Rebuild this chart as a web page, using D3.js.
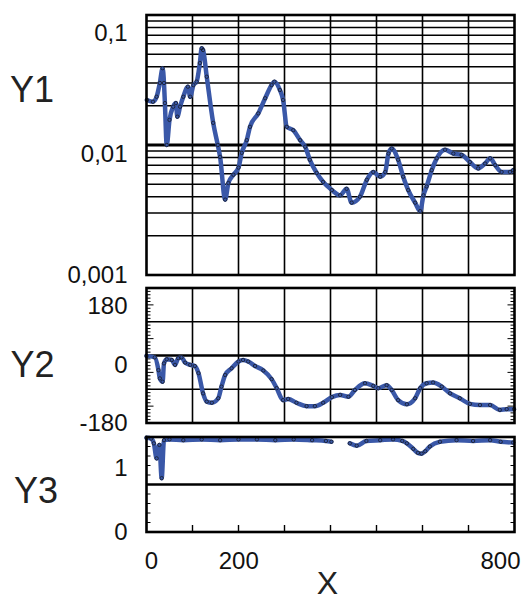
<!DOCTYPE html>
<html>
<head>
<meta charset="utf-8">
<script src="https://cdn.jsdelivr.net/npm/d3@7"></script>
<style>
  body { margin: 0; background: #fff; }
  svg { display: block; font-family: "Liberation Sans", Arial, sans-serif; }
</style>
</head>
<body>
<svg id="chart" width="528" height="603"></svg>
<script>
// ---- data -------------------------------------------------------------
// Y1 magnitude (log scale)
const y1X = [1, 14, 22, 29, 35, 38, 40, 44, 50, 58, 64, 67, 73, 80, 90, 95, 102, 109, 116, 120, 123, 131, 145, 155, 160, 171, 178, 189, 200, 207, 218, 225, 243, 258, 272, 278, 290, 297, 305, 319, 334, 345, 355, 370, 384, 403, 421, 435, 446, 464, 479, 493, 508, 519, 526, 533, 547, 558, 569, 584, 595, 602, 609, 620, 631, 649, 667, 685, 703, 721, 736, 747, 758, 772, 790, 797];
const y1Vals = [0.0222, 0.0215, 0.0235, 0.030, 0.039, 0.030, 0.021, 0.0100, 0.0156, 0.0197, 0.021, 0.0165, 0.0197, 0.0235, 0.0281, 0.0235, 0.0289, 0.0307, 0.0427, 0.0555, 0.0538, 0.0335, 0.0148, 0.0100, 0.0081, 0.0038, 0.0051, 0.0059, 0.0067, 0.0087, 0.0109, 0.0138, 0.0175, 0.0229, 0.0289, 0.0307, 0.0265, 0.0222, 0.0138, 0.0130, 0.0109, 0.0097, 0.0077, 0.0061, 0.0052, 0.0045, 0.0041, 0.0046, 0.0036, 0.0040, 0.0054, 0.0062, 0.0057, 0.0062, 0.0086, 0.0094, 0.0077, 0.0057, 0.0045, 0.0036, 0.0031, 0.0041, 0.0048, 0.0064, 0.0079, 0.0092, 0.0086, 0.0084, 0.0074, 0.0066, 0.0072, 0.0079, 0.0070, 0.0062, 0.0062, 0.0064];

// Y2 phase (degrees)
const y2X = [0, 18, 26, 29, 35, 38, 44, 55, 62, 69, 76, 84, 95, 105, 113, 123, 131, 142, 156, 163, 171, 185, 200, 210, 221, 236, 254, 272, 283, 297, 308, 326, 348, 366, 384, 403, 421, 439, 453, 475, 493, 504, 522, 533, 547, 566, 584, 595, 609, 623, 642, 660, 681, 703, 725, 747, 768, 783, 799];
const y2Vals = [-1, -5, -39, -61, -70, -21, -10, -12, -25, -7, -5, -19, -25, -28, -47, -101, -123, -126, -114, -83, -52, -34, -16, -12, -16, -28, -40, -63, -87, -119, -116, -126, -135, -135, -126, -111, -105, -110, -92, -74, -81, -87, -79, -92, -119, -130, -114, -87, -74, -72, -83, -101, -114, -129, -132, -132, -145, -143, -143];

// Y3 (null marks the gap in the record)
const y3X = [0, 10, 16, 22, 28, 33, 38, 50, 80, 120, 160, 200, 240, 280, 320, 360, 390, 402, 420, 442, 457, 478, 508, 536, 556, 566, 580, 590, 598, 606, 616, 638, 674, 710, 747, 770, 797];
const y3Vals = [1.19, 1.18, 1.12, 0.93, 1.10, 0.68, 1.16, 1.17, 1.16, 1.17, 1.16, 1.17, 1.17, 1.16, 1.17, 1.16, 1.15, 1.14, null, 1.12, 1.09, 1.15, 1.16, 1.17, 1.15, 1.12, 1.05, 1.00, 0.99, 1.02, 1.08, 1.14, 1.16, 1.15, 1.16, 1.14, 1.13];

// tick labels
const xTicks = [0, 200, 800];
const y1Ticks = [0.001, 0.01, 0.1];
const y2Ticks = [-180, 0, 180];
const y3Ticks = [0, 1];

// ---- layout -----------------------------------------------------------
const svg = d3.select("#chart");
const L = 146.5, R = 514.5;
const P1 = { top: 15, bottom: 275 };
const P2 = { top: 288, bottom: 423 };
const P3 = { top: 437, bottom: 532 };
const BLUE = "#3a58a8";
const FONT = 24;

const locale = d3.formatLocale({ decimal: ",", thousands: ".", grouping: [3], currency: ["", ""], minus: "-" });
const fmtDec = locale.format(".3~f");
const fmtInt = locale.format("d");

const x = d3.scaleLinear().domain([0, 800]).range([L, R]);
const y1 = d3.scaleLog().domain([0.001, 0.1]).range([P1.bottom, P1.top]);
const y2 = d3.scaleLinear().domain([-180, 180]).range([P2.bottom, P2.top]);
const y3 = d3.scaleLinear().domain([0, 1.2]).range([P3.bottom, P3.top]);

const gGrid = svg.append("g");
const gData = svg.append("g");
const gFrame = svg.append("g");

function hLine(g, yPos, w) {
  g.append("line").attr("x1", L).attr("x2", R).attr("y1", yPos).attr("y2", yPos)
    .attr("stroke", "#000").attr("stroke-width", w);
}
function vGrid(g, p) {
  d3.range(100, 800, 100).forEach(v => {
    g.append("line").attr("x1", x(v)).attr("x2", x(v)).attr("y1", p.top).attr("y2", p.bottom)
      .attr("stroke", "#000").attr("stroke-width", 1.6);
  });
}

// Y1 grid: each log minor step, heavier line at the middle decade
[0.001, 0.01].forEach(d => {
  d3.range(2, 10).forEach(k => hLine(gGrid, y1(k * d), 1.5));
});
hLine(gGrid, y1(0.01), 3);
vGrid(gGrid, P1);

// Y2 grid
[-90, 90].forEach(v => hLine(gGrid, y2(v), 1.6));
hLine(gGrid, y2(0), 2.6);
vGrid(gGrid, P2);

// Y2 inner ticks on both sides
d3.range(-180, 181, 9).forEach(v => {
  const len = Math.abs(Math.abs(v) - 90) === 45 ? 7 : 4;
  [[L, 1], [R, -1]].forEach(([x0, s]) => {
    gGrid.append("line").attr("x1", x0).attr("x2", x0 + s * len)
      .attr("y1", y2(v)).attr("y2", y2(v)).attr("stroke", "#000").attr("stroke-width", 1);
  });
});

// Y3 grid and ticks
hLine(gGrid, y3(0.6), 2.6);
d3.range(0, 1.2001, 0.12).forEach(v => {
  [[L, 1], [R, -1]].forEach(([x0, s]) => {
    gGrid.append("line").attr("x1", x0).attr("x2", x0 + s * 4)
      .attr("y1", y3(v)).attr("y2", y3(v)).attr("stroke", "#000").attr("stroke-width", 1);
  });
});
d3.range(100, 800, 100).forEach(v => {
  gGrid.append("line").attr("x1", x(v)).attr("x2", x(v)).attr("y1", P3.bottom).attr("y2", P3.bottom - 7)
    .attr("stroke", "#000").attr("stroke-width", 1.4);
});

// ---- series -------------------------------------------------------------
function drawSeries(xs, ys, yScale) {
  const pts = xs.map((v, i) => [v, ys[i]]);
  const line = d3.line()
    .defined(d => d[1] !== null)
    .x(d => x(d[0])).y(d => yScale(d[1]))
    .curve(d3.curveMonotoneX);
  gData.append("path").datum(pts).attr("d", line)
    .attr("fill", "none").attr("stroke", BLUE).attr("stroke-width", 4.5)
    .attr("stroke-linejoin", "round").attr("stroke-linecap", "round");
  gData.append("g").selectAll("circle").data(pts.filter(d => d[1] !== null)).join("circle")
    .attr("cx", d => x(d[0])).attr("cy", d => yScale(d[1])).attr("r", 1.7)
    .attr("fill", "none").attr("stroke", "#111").attr("stroke-width", 0.8).attr("opacity", 0.85);
}
drawSeries(y1X, y1Vals, y1);
drawSeries(y2X, y2Vals, y2);
drawSeries(y3X, y3Vals, y3);

// ---- frames -------------------------------------------------------------
[P1, P2, P3].forEach(p => {
  gFrame.append("rect").attr("x", L).attr("y", p.top).attr("width", R - L).attr("height", p.bottom - p.top)
    .attr("fill", "none").attr("stroke", "#000").attr("stroke-width", 2.6);
});

// ---- tick labels ----------------------------------------------------------
function yLabels(scale, p, ticks, fmt) {
  const lab = scale.copy().range([p.bottom, p.top + 18]);
  const g = svg.append("g").attr("transform", `translate(${L - 19},0)`)
    .call(d3.axisLeft(lab).tickValues(ticks).tickSize(0).tickPadding(0).tickFormat(fmt));
  g.select(".domain").remove();
  g.selectAll("text").attr("font-size", FONT).attr("font-family", "Liberation Sans, Arial, sans-serif").attr("fill", "#111");
}
yLabels(y1, P1, y1Ticks, fmtDec);
yLabels(y2, P2, y2Ticks, fmtInt);
yLabels(y3, P3, y3Ticks, fmtInt);

const xLab = x.copy().range([151, 500]);
const gx = svg.append("g").attr("transform", "translate(0,552)")
  .call(d3.axisBottom(xLab).tickValues(xTicks).tickSize(0).tickPadding(0).tickFormat(fmtInt));
gx.select(".domain").remove();
gx.selectAll("text").attr("font-size", FONT).attr("font-family", "Liberation Sans, Arial, sans-serif").attr("fill", "#111");

// ---- titles ---------------------------------------------------------------
const titles = [["Y1", 32, 102], ["Y2", 32.5, 377], ["Y3", 36, 503], ["X", 327.5, 594]];
titles.forEach(([t, tx, ty]) => {
  svg.append("text").attr("x", tx).attr("y", ty).attr("text-anchor", "middle")
    .attr("font-size", t === "X" ? 32 : 36).attr("fill", "#222").text(t);
});
</script>
</body>
</html>
